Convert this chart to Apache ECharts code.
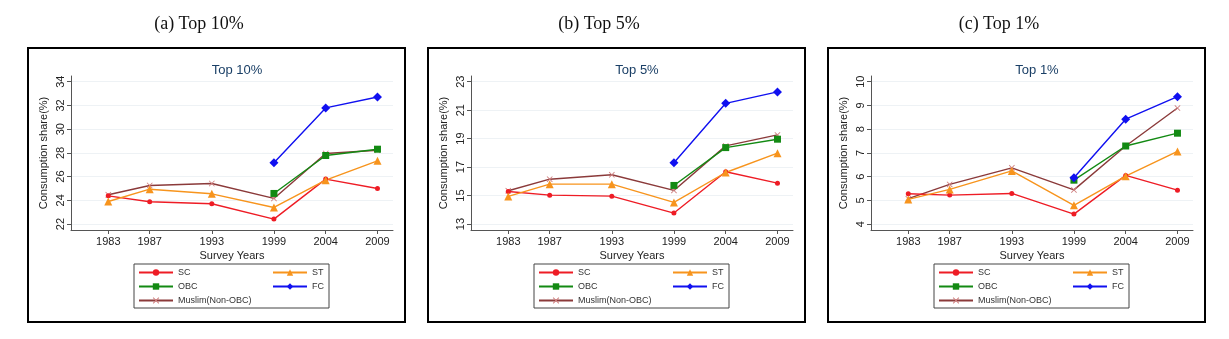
<!DOCTYPE html>
<html>
<head>
<meta charset="utf-8">
<script src="https://cdn.jsdelivr.net/npm/echarts@6/dist/echarts.min.js"></script>
<style>
html,body{margin:0;padding:0;background:#fff;}
#c{width:1229px;height:339px;}
</style>
</head>
<body>
<div id="c"></div>
<script>
// ---- data ----
const years = [1983, 1987, 1993, 1999, 2004, 2009];
const seriesNames = ['SC', 'ST', 'OBC', 'FC', 'Muslim(Non-OBC)'];
const captions = ['(a) Top 10%', '(b) Top 5%', '(c) Top 1%'];
const panelTitles = ['Top 10%', 'Top 5%', 'Top 1%'];

// Top 10%
const top10SC     = [24.38, 23.88, 23.71, 22.42, 25.79, 25.00];
const top10ST     = [23.90, 24.94, 24.55, 23.40, 25.70, 27.33];
const top10OBC    = [null, null, null, 24.58, 27.78, 28.31];
const top10FC     = [null, null, null, 27.16, 31.79, 32.71];
const top10Muslim = [24.47, 25.25, 25.42, 24.16, 27.95, 28.22];
const top10Ticks  = [22, 24, 26, 28, 30, 32, 34];

// Top 5%
const top5SC     = [15.29, 15.03, 14.96, 13.77, 16.67, 15.87];
const top5ST     = [14.94, 15.80, 15.80, 14.52, 16.62, 17.98];
const top5OBC    = [null, null, null, 15.71, 18.37, 18.96];
const top5FC     = [null, null, null, 17.30, 21.48, 22.28];
const top5Muslim = [15.34, 16.15, 16.46, 15.36, 18.49, 19.26];
const top5Ticks  = [13, 15, 17, 19, 21, 23];

// Top 1%
const top1SC     = [5.28, 5.22, 5.29, 4.42, 6.05, 5.43];
const top1ST     = [5.04, 5.46, 6.24, 4.79, 6.02, 7.06];
const top1OBC    = [null, null, null, 5.85, 7.29, 7.83];
const top1FC     = [null, null, null, 5.95, 8.42, 9.37];
const top1Muslim = [5.07, 5.67, 6.37, 5.44, 7.29, 8.89];
const top1Ticks  = [4, 5, 6, 7, 8, 9, 10];

const panels = [
  {vals: [top10SC, top10ST, top10OBC, top10FC, top10Muslim], ticks: top10Ticks, min: 21.5, max: 34.48},
  {vals: [top5SC, top5ST, top5OBC, top5FC, top5Muslim], ticks: top5Ticks, min: 12.58, max: 23.4},
  {vals: [top1SC, top1ST, top1OBC, top1FC, top1Muslim], ticks: top1Ticks, min: 3.75, max: 10.24}
];

// ---- styles ----
const xPath = 'path://M0,1L1,0L5,4L9,0L10,1L6,5L10,9L9,10L5,6L1,10L0,9L4,5Z';
const styles = {
  'SC':              {color: '#ee1c25', symbol: 'circle',   size: 5, mcolor: '#ee1c25'},
  'ST':              {color: '#f7941d', symbol: 'triangle', size: 8, mcolor: '#f7941d'},
  'OBC':             {color: '#138a13', symbol: 'rect',     size: 7, mcolor: '#138a13'},
  'FC':              {color: '#1010f0', symbol: 'diamond',  size: 9, mcolor: '#1010f0'},
  'Muslim(Non-OBC)': {color: '#8b3a3a', symbol: xPath,      size: 6, mcolor: '#d08080'}
};

const font = 'Liberation Sans, Arial, sans-serif';
const grids = [], xAxes = [], yAxes = [], series = [], legends = [], graphics = [], titles = [];

panels.forEach((p, i) => {
  const off = 400 * i;
  grids.push({left: 71 + off, top: 76, width: 322, height: 154});
  xAxes.push({
    type: 'value', gridIndex: i, min: 1979.4, max: 2010.5,
    name: 'Survey Years', nameLocation: 'middle', nameGap: 20,
    nameTextStyle: {fontFamily: font, fontSize: 11, color: '#222'},
    axisLine: {show: true, lineStyle: {color: '#555', width: 1}},
    axisTick: {show: true, length: 4, customValues: years, lineStyle: {color: '#555'}},
    axisLabel: {customValues: years, formatter: v => String(v), fontFamily: font, fontSize: 11, color: '#222', margin: 6},
    splitLine: {show: false}
  });
  yAxes.push({
    type: 'value', gridIndex: i, min: p.min, max: p.max,
    name: 'Consumption share(%)', nameLocation: 'middle', nameGap: 22, nameRotate: 90,
    nameTextStyle: {fontFamily: font, fontSize: 11, color: '#222'},
    axisLine: {show: true, lineStyle: {color: '#555', width: 1}},
    axisTick: {show: true, length: 4, customValues: p.ticks, lineStyle: {color: '#555'}},
    axisLabel: {customValues: p.ticks, formatter: v => String(v), rotate: 90, fontFamily: font, fontSize: 11, color: '#222', margin: 5},
    splitLine: {show: true, lineStyle: {color: '#eef2f5', width: 1}}
  });
  seriesNames.forEach((n, k) => {
    const s = styles[n];
    const data = [];
    years.forEach((y, j) => { if (p.vals[k][j] !== null) data.push([y, p.vals[k][j]]); });
    series.push({
      type: 'line', name: n, xAxisIndex: i, yAxisIndex: i, data: data,
      symbol: s.symbol, symbolSize: s.size, showAllSymbol: true,
      lineStyle: {color: s.color, width: 1.4},
      itemStyle: {color: s.mcolor, borderWidth: 0},
      z: n === 'Muslim(Non-OBC)' ? 2 : 3,
      animation: false
    });
  });
  const legText = {fontFamily: font, fontSize: 9, color: '#333', lineHeight: 11};
  legends.push({
    data: ['SC', 'OBC', 'Muslim(Non-OBC)'], orient: 'vertical', left: 138 + off, top: 267,
    itemWidth: 34, itemHeight: 8, itemGap: 3, padding: 0, textStyle: legText, selectedMode: false
  });
  legends.push({
    data: ['ST', 'FC'], orient: 'vertical', left: 272 + off, top: 267,
    itemWidth: 34, itemHeight: 8, itemGap: 3, padding: 0, textStyle: legText, selectedMode: false
  });
  graphics.push({type: 'rect', shape: {x: 134 + off, y: 264, width: 195, height: 44},
    style: {fill: 'none', stroke: '#444', lineWidth: 1}, silent: true});
  graphics.push({type: 'rect', shape: {x: 28 + off, y: 48, width: 377, height: 274},
    style: {fill: 'none', stroke: '#000', lineWidth: 2}, silent: true});
  titles.push({text: panelTitles[i], left: 232 + off, top: 59, textAlign: 'center',
    textStyle: {fontFamily: font, fontSize: 13, fontWeight: 'normal', color: '#1a3f66'}});
  titles.push({text: captions[i], left: 194 + off, top: 10, textAlign: 'center',
    textStyle: {fontFamily: 'Liberation Serif, Times New Roman, serif', fontSize: 18, fontWeight: 'normal', color: '#111'}});
});

const chart = echarts.init(document.getElementById('c'), null, {renderer: 'canvas'});
chart.setOption({
  animation: false,
  backgroundColor: '#fff',
  title: titles,
  grid: grids,
  xAxis: xAxes,
  yAxis: yAxes,
  legend: legends,
  series: series,
  graphic: graphics
});
</script>
</body>
</html>
